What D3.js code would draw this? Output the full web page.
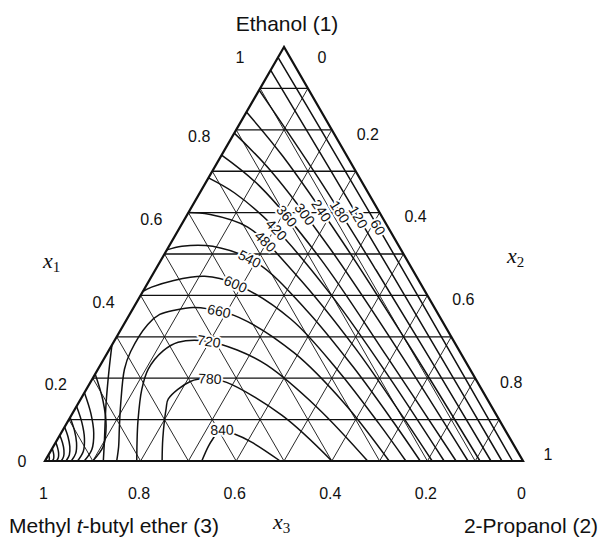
<!DOCTYPE html>
<html>
<head>
<meta charset="utf-8">
<script src="https://cdn.jsdelivr.net/npm/d3@7"></script>
<style>
  html, body { margin: 0; padding: 0; background: #fff; }
  svg { display: block; }
  .tick-label { font-family: "Liberation Sans", Arial, Helvetica, sans-serif; font-size: 16px; fill: #111; }
  .title { font-family: "Liberation Sans", Arial, Helvetica, sans-serif; font-size: 21px; fill: #111; }
  .axis-var { font-family: "Liberation Serif", "Times New Roman", serif; font-style: italic; font-size: 22px; fill: #111; }
  .contour { fill: none; stroke: #111; stroke-width: 1.5; }
  .grid { stroke: #111; stroke-width: 0.9; }
  .grid.h { stroke-width: 1.3; }
  .frame { fill: none; stroke: #111; stroke-width: 2.2; stroke-linejoin: miter; }
  .contour-label { font-family: "Liberation Sans", Arial, sans-serif; font-size: 14px; fill: #111;
                   stroke: #fff; stroke-width: 4px; paint-order: stroke; stroke-linejoin: round; }
</style>
</head>
<body>
<svg id="chart" width="602" height="538"></svg>
<script>
// excess enthalpy contour levels (J/mol)
const levels = [60, 120, 180, 240, 300, 360, 420, 480, 540, 600, 660, 720, 780, 840];

// points are [x1, x3]; branch on the alcohol side, from the x2 = 0 edge to the x1 = 0 edge (levels 60..600)
const alcoholBranch = [
  [[0.975,0.025],[0.782,0.0223],[0.49,0.0205],[0.196,0.021],[0,0.022]],
  [[0.944,0.056],[0.711,0.0517],[0.476,0.0485],[0.239,0.0458],[0,0.044]],
  [[0.896,0.104],[0.685,0.0865],[0.462,0.0768],[0.232,0.0709],[0,0.067]],
  [[0.843,0.157],[0.736,0.1344],[0.532,0.113],[0.27,0.0985],[0,0.09]],
  [[0.792,0.208],[0.70,0.177],[0.512,0.147],[0.262,0.127],[0,0.115]],
  [[0.739,0.261],[0.664,0.219],[0.492,0.18],[0.252,0.1585],[0,0.14]],
  [[0.684,0.316],[0.648,0.28],[0.57,0.24],[0.40,0.2007],[0.205,0.179],[0,0.165]],
  [[0.60,0.40],[0.596,0.359],[0.565,0.2935],[0.45,0.25],[0.275,0.215],[0.12,0.199],[0,0.19]],
  [[0.51,0.49],[0.519,0.454],[0.5185,0.39],[0.478,0.317],[0.365,0.271],[0.2275,0.2417],[0.093,0.224],[0,0.215]],
  [[0.41,0.59],[0.42,0.567],[0.435,0.517],[0.446,0.443],[0.428,0.388],[0.343,0.3145],[0.217,0.2774],[0.089,0.256],[0,0.245]]
];

// branch near the MTBE corner (levels 60..600)
const etherBranch = [
  [[0.015,0.985],[0.01035,0.9862],[0.00605,0.9879],[0.00245,0.9902],[0,0.993]],
  [[0.03,0.97],[0.0209,0.9721],[0.0124,0.9753],[0.0051,0.9796],[0,0.985]],
  [[0.045,0.955],[0.0318,0.9577],[0.019,0.962],[0.008,0.9682],[0,0.976]],
  [[0.062,0.938],[0.044,0.9414],[0.0264,0.9472],[0.0112,0.9554],[0,0.966]],
  [[0.082,0.918],[0.0579,0.9228],[0.0347,0.9307],[0.0146,0.9418],[0,0.956]],
  [[0.105,0.895],[0.0739,0.9015],[0.044,0.912],[0.0184,0.9265],[0,0.945]],
  [[0.132,0.868],[0.0926,0.8765],[0.055,0.89],[0.0229,0.9085],[0,0.932]],
  [[0.165,0.835],[0.1151,0.8465],[0.0679,0.8641],[0.028,0.888],[0,0.918]],
  [[0.21,0.79],[0.1456,0.8059],[0.0853,0.8295],[0.0348,0.8609],[0,0.90]],
  [[0.28,0.72],[0.22,0.756],[0.1376,0.8035],[0.084,0.8325],[0.0438,0.854],[0,0.878]]
];

// closed loops on the 2-propanol/MTBE side (levels 660..840)
const closedArcs = [
  [[0,0.28],[0.139,0.304],[0.261,0.348],[0.347,0.421],[0.3675,0.475],[0.371,0.505],[0.365,0.544],[0.354,0.583],[0.33,0.62],[0.264,0.689],[0.2216,0.723],[0.1356,0.774],[0.078,0.8055],[0.034,0.829],[0,0.85]],
  [[0,0.325],[0.127,0.365],[0.232,0.4205],[0.268,0.464],[0.29,0.517],[0.287,0.578],[0.266,0.62],[0.222,0.673],[0.173,0.711],[0.097,0.757],[0.043,0.786],[0,0.808]],
  [[0,0.40],[0.11,0.449],[0.19,0.525],[0.199,0.558],[0.192,0.60],[0.15,0.667],[0.127,0.683],[0.055,0.726],[0,0.755]],
  [[0,0.508],[0.0455,0.545],[0.0645,0.57],[0.075,0.598],[0.0573,0.618],[0.036,0.64],[0,0.672]]
];

// where each level is labelled, [x1, x3]
const labelSpots = [
  [0.563,0.025],[0.589,0.05],[0.601,0.085],[0.606,0.117],[0.601,0.15],[0.594,0.195],
  [0.553,0.245],[0.522,0.285],[0.486,0.33],[0.425,0.39],[0.37,0.449],[0.292,0.511],
  [0.205,0.552],[0.077,0.591]
];

const ticks = [0, 0.2, 0.4, 0.6, 0.8, 1];
const gridSteps = [0.1, 0.2, 0.3, 0.4, 0.5, 0.6, 0.7, 0.8, 0.9];

const svg = d3.select("#chart");

// ternary -> screen; u = x2 + x1/2 runs along the base
const xScale = d3.scaleLinear().domain([0, 1]).range([45, 523]);
const yScale = d3.scaleLinear().domain([0, 1]).range([461, 461 - 478 * Math.sqrt(3) / 2]);
const pt = ([x1, x3]) => [xScale(1 - x3 - x1 / 2), yScale(x1)];

const line = d3.line()
  .x(d => pt(d)[0])
  .y(d => pt(d)[1])
  .curve(d3.curveCatmullRom.alpha(0.5));

// grid
const gridLines = [];
gridSteps.forEach(t => {
  gridLines.push({ cls: "grid h", a: [t, 1 - t], b: [t, 0] });      // x1 = t
  gridLines.push({ cls: "grid", a: [0, t], b: [1 - t, t] });         // x3 = t
  gridLines.push({ cls: "grid", a: [0, 1 - t], b: [1 - t, 0] });     // x2 = t
});
svg.append("g").selectAll("line")
  .data(gridLines)
  .join("line")
  .attr("class", d => d.cls)
  .attr("x1", d => pt(d.a)[0]).attr("y1", d => pt(d.a)[1])
  .attr("x2", d => pt(d.b)[0]).attr("y2", d => pt(d.b)[1]);

// contours
const contourG = svg.append("g");
const mainPaths = [];
levels.forEach((lv, i) => {
  if (i < alcoholBranch.length) {
    mainPaths[i] = contourG.append("path").attr("class", "contour").attr("d", line(alcoholBranch[i]));
    contourG.append("path").attr("class", "contour").attr("d", line(etherBranch[i]));
  } else {
    mainPaths[i] = contourG.append("path").attr("class", "contour").attr("d", line(closedArcs[i - alcoholBranch.length]));
  }
});

// frame
svg.append("path")
  .attr("class", "frame")
  .attr("d", "M" + [pt([1, 0]), pt([0, 1]), pt([0, 0])].map(p => p.join(",")).join("L") + "Z");

// contour labels, snapped onto their curve and turned along it
function snap(node, target) {
  const len = node.getTotalLength();
  let best = 0, bd = Infinity;
  for (let s = 0; s <= len; s += 0.5) {
    const p = node.getPointAtLength(s);
    const d = (p.x - target[0]) ** 2 + (p.y - target[1]) ** 2;
    if (d < bd) { bd = d; best = s; }
  }
  const a = node.getPointAtLength(Math.max(0, best - 5));
  const b = node.getPointAtLength(Math.min(len, best + 5));
  let ang = Math.atan2(b.y - a.y, b.x - a.x) * 180 / Math.PI;
  if (ang > 90) ang -= 180;
  if (ang < -90) ang += 180;
  const p = node.getPointAtLength(best);
  return { x: p.x, y: p.y, ang };
}

levels.forEach((lv, i) => {
  const s = snap(mainPaths[i].node(), pt(labelSpots[i]));
  svg.append("text")
    .attr("class", "contour-label")
    .attr("transform", `translate(${s.x},${s.y}) rotate(${s.ang})`)
    .attr("text-anchor", "middle")
    .attr("dy", "0.36em")
    .text(lv);
});

// tick labels
const tickG = svg.append("g");
ticks.forEach(t => {
  const p = pt([t, 1 - t]);
  const o = t === 1 ? [-44, 10] : t === 0 ? [-23, 0] : [-37, 6.5];
  tickG.append("text").attr("class", "tick-label")
    .attr("x", p[0] + o[0]).attr("y", p[1] + o[1])
    .attr("text-anchor", "middle").attr("dy", "0.36em").text(t);
});
ticks.forEach(t => {
  const p = pt([1 - t, 0]);
  const o = t === 0 ? [38, 10] : t === 1 ? [25, -7] : [36, 4];
  tickG.append("text").attr("class", "tick-label")
    .attr("x", p[0] + o[0]).attr("y", p[1] + o[1])
    .attr("text-anchor", "middle").attr("dy", "0.36em").text(t);
});
ticks.forEach(t => {
  const p = pt([0, t]);
  tickG.append("text").attr("class", "tick-label")
    .attr("x", p[0] - 1.5).attr("y", p[1] + 32)
    .attr("text-anchor", "middle").attr("dy", "0.36em").text(t);
});

// component names
svg.append("text").attr("class", "title").attr("x", 287).attr("y", 31)
  .attr("text-anchor", "middle").text("Ethanol (1)");
const mtbe = svg.append("text").attr("class", "title").attr("x", 114).attr("y", 533)
  .attr("text-anchor", "middle");
mtbe.append("tspan").text("Methyl ");
mtbe.append("tspan").style("font-style", "italic").text("t");
mtbe.append("tspan").text("-butyl ether (3)");
svg.append("text").attr("class", "title").attr("x", 531).attr("y", 533)
  .attr("text-anchor", "middle").text("2-Propanol (2)");

// axis variables
function axisVar(x, y, sub) {
  const t = svg.append("text").attr("class", "axis-var").attr("x", x).attr("y", y);
  t.append("tspan").text("x");
  t.append("tspan").attr("dy", 4).style("font-size", "15px").style("font-style", "normal").text(sub);
}
axisVar(43, 268, "1");
axisVar(507, 263, "2");
axisVar(273, 529, "3");
</script>
</body>
</html>
